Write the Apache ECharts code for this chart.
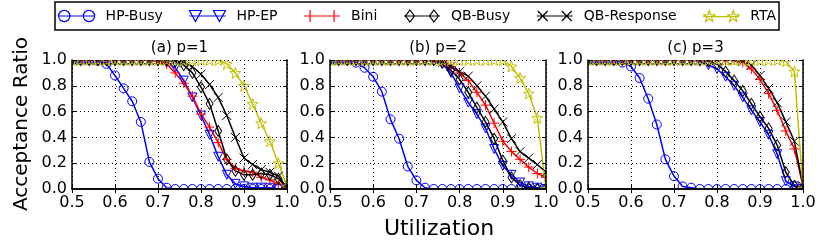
<!DOCTYPE html>
<html><head><meta charset="utf-8">
<script src="https://cdn.jsdelivr.net/npm/echarts@6/dist/echarts.min.js"></script>
<style>html,body{margin:0;padding:0;background:#fff}#c{width:831px;height:244px}</style>
</head><body><div id="c"></div>
<script>
// ---------------- data ----------------
const utilization = [0.50,0.52,0.54,0.56,0.58,0.60,0.62,0.64,0.66,0.68,0.70,0.72,0.74,0.76,0.78,0.80,0.82,0.84,0.86,0.88,0.90,0.92,0.94,0.96,0.98,1.00];
const xTickValues = [0.5,0.6,0.7,0.8,0.9,1.0];
const yTickValues = [0.0,0.2,0.4,0.6,0.8,1.0];
const panelTitles = ['(a) p=1','(b) p=2','(c) p=3'];
const seriesNames = ['HP-Busy','HP-EP','Bini','QB-Busy','QB-Response','RTA'];
const xAxisTitle = 'Utilization';
const yAxisTitle = 'Acceptance Ratio';

// p = 1
const hpBusyP1   = [1,1,1,0.995,0.97,0.88,0.78,0.68,0.52,0.21,0.08,0.01,0,0,0,0,0,0,0,0,0,0,0,0,0,0];
const hpEpP1     = [1,1,1,1,1,1,1,1,1,1,1,0.98,0.94,0.84,0.71,0.57,0.42,0.25,0.11,0.04,0.02,0.01,0.01,0.01,0,0];
const biniP1     = [1,1,1,1,1,1,1,1,1,1,0.99,0.97,0.90,0.82,0.72,0.58,0.48,0.36,0.23,0.16,0.14,0.13,0.09,0.07,0.04,0.01];
const qbBusyP1   = [1,1,1,1,1,1,1,1,1,1,1,1,0.99,0.96,0.90,0.79,0.66,0.45,0.23,0.14,0.11,0.11,0.12,0.11,0.08,0.01];
const qbRespP1   = [1,1,1,1,1,1,1,1,1,1,1,1,0.995,0.98,0.95,0.89,0.81,0.71,0.57,0.40,0.24,0.19,0.15,0.13,0.10,0.01];
const rtaP1      = [1,1,1,1,1,1,1,1,1,1,1,1,1,1,1,1,1,1,0.97,0.90,0.80,0.66,0.51,0.37,0.20,0.02];
// p = 2
const hpBusyP2   = [1,1,1,0.98,0.94,0.87,0.755,0.54,0.39,0.175,0.067,0.01,0,0,0,0,0,0,0,0,0,0,0,0,0,0];
const hpEpP2     = [1,1,1,1,1,1,1,1,1,1,1,1,0.99,0.97,0.90,0.78,0.67,0.58,0.47,0.31,0.18,0.11,0.05,0.02,0.01,0];
const biniP2     = [1,1,1,1,1,1,1,1,1,1,1,1,1,0.99,0.95,0.90,0.84,0.75,0.65,0.51,0.37,0.29,0.23,0.17,0.12,0.09];
const qbBusyP2   = [1,1,1,1,1,1,1,1,1,1,1,1,1,0.98,0.92,0.85,0.75,0.63,0.52,0.39,0.22,0.09,0.03,0.01,0,0];
const qbRespP2   = [1,1,1,1,1,1,1,1,1,1,1,1,1,0.98,0.95,0.91,0.875,0.80,0.72,0.62,0.52,0.39,0.29,0.24,0.19,0.13];
const rtaP2      = [1,1,1,1,1,1,1,1,1,1,1,1,1,1,1,1,1,1,1,1,1,0.95,0.86,0.74,0.55,0.0];
// p = 3
const hpBusyP3   = [1,1,1,1,0.98,0.95,0.86,0.70,0.50,0.23,0.10,0.02,0.01,0,0,0,0,0,0,0,0,0,0,0,0,0];
const hpEpP3     = [1,1,1,1,1,1,1,1,1,1,1,1,1,0.99,0.96,0.93,0.87,0.80,0.71,0.61,0.52,0.42,0.27,0.06,0.02,0];
const biniP3     = [1,1,1,1,1,1,1,1,1,1,1,1,1,1,1,1,1,1,0.98,0.93,0.85,0.74,0.61,0.45,0.31,0.02];
const qbBusyP3   = [1,1,1,1,1,1,1,1,1,1,1,1,1,1,0.99,0.97,0.91,0.84,0.76,0.66,0.56,0.47,0.34,0.13,0.025,0];
const qbRespP3   = [1,1,1,1,1,1,1,1,1,1,1,1,1,1,1,1,1,1,0.99,0.96,0.88,0.78,0.67,0.52,0.37,0.02];
const rtaP3      = [1,1,1,1,1,1,1,1,1,1,1,1,1,1,1,1,1,1,1,1,1,1,1,0.99,0.91,0.0];

const panelData = [
  [hpBusyP1, hpEpP1, biniP1, qbBusyP1, qbRespP1, rtaP1],
  [hpBusyP2, hpEpP2, biniP2, qbBusyP2, qbRespP2, rtaP2],
  [hpBusyP3, hpEpP3, biniP3, qbBusyP3, qbRespP3, rtaP3]
];

// ---------------- styling ----------------
function starPath(cx, cy, R, r) {
  let s = '';
  for (let k = 0; k < 10; k++) {
    const a = -Math.PI / 2 + k * Math.PI / 5;
    const rad = k % 2 ? r : R;
    s += (k ? 'L' : 'M') + (cx + rad * Math.cos(a)).toFixed(2) + ',' + (cy + rad * Math.sin(a)).toFixed(2);
  }
  return s + 'Z';
}
const FONT = 'DejaVu Sans';
const styles = [
  {color:'#0000ff', symbol:'circle', size:9, rotate:0,
   icon:'path://M0.5,6A5.5,5.5 0 1 1 11.5,6A5.5,5.5 0 1 1 0.5,6M0.5,6L35.5,6M24.5,6A5.5,5.5 0 1 1 35.5,6A5.5,5.5 0 1 1 24.5,6'},
  {color:'#0000ff', symbol:'triangle', size:9, rotate:180,
   icon:'path://M0,0.5L12,0.5L6,11.5ZM24,0.5L36,0.5L30,11.5ZM0,6L36,6'},
  {color:'#ff0000', symbol:'path://M0,5L10,5M5,0L5,10', size:10, rotate:0,
   icon:'path://M0,6L36,6M6,0L6,12M30,0L30,12'},
  {color:'#000000', symbol:'diamond', size:[7,11], rotate:0,
   icon:'path://M6,0L10.5,6L6,12L1.5,6ZM30,0L34.5,6L30,12L25.5,6ZM0,6L36,6'},
  {color:'#000000', symbol:'path://M0,0L10,10M10,0L0,10', size:9, rotate:0,
   icon:'path://M1,1L11,11M11,1L1,11M25,1L35,11M35,1L25,11M0,6L36,6'},
  {color:'#bfbf00', symbol:'path://' + starPath(10,10,10,4), size:11, rotate:0,
   icon:'path://' + starPath(6,6.5,6,2.5) + starPath(30,6.5,6,2.5) + 'M0,6.5L36,6.5'}
];

const TOP = 60, H = 129;
const panels = [{left:72, width:215}, {left:330, width:216}, {left:588, width:215}];

const grid = [], xAxis = [], yAxis = [], series = [], graphic = [];
panels.forEach((p, i) => {
  grid.push({left:p.left, top:TOP, width:p.width, height:H, containLabel:false});
  const common = {type:'value', gridIndex:i, zlevel:2, z:10};
  const lineSty = {show:true, lineStyle:{color:'#000', width:1.5}};
  xAxis.push(Object.assign({}, common, {
    position:'bottom', min:xTickValues[0], max:xTickValues[xTickValues.length-1], interval:0.1,
    axisLine:lineSty, axisTick:{show:true, inside:true, length:4, lineStyle:{color:'#000'}},
    axisLabel:{show:true, margin:6, fontFamily:FONT, fontSize:16, color:'#000', formatter:v=>v.toFixed(1)},
    splitLine:{show:true, lineStyle:{color:'#000', width:1, type:[1,3]}}
  }));
  xAxis.push(Object.assign({}, common, {
    position:'top', min:xTickValues[0], max:xTickValues[xTickValues.length-1], interval:0.1,
    axisLine:lineSty, axisTick:{show:true, inside:true, length:4, lineStyle:{color:'#000'}},
    axisLabel:{show:false}, splitLine:{show:false}
  }));
  yAxis.push(Object.assign({}, common, {
    position:'left', min:yTickValues[0], max:yTickValues[yTickValues.length-1], interval:0.2,
    axisLine:lineSty, axisTick:{show:true, inside:true, length:4, lineStyle:{color:'#000'}},
    axisLabel:{show:true, margin:5, fontFamily:FONT, fontSize:16, color:'#000', formatter:v=>v.toFixed(1)},
    splitLine:{show:true, lineStyle:{color:'#000', width:1, type:[1,3]}}
  }));
  yAxis.push(Object.assign({}, common, {
    position:'right', min:yTickValues[0], max:yTickValues[yTickValues.length-1], interval:0.2,
    axisLine:lineSty, axisTick:{show:true, inside:true, length:4, lineStyle:{color:'#000'}},
    axisLabel:{show:false}, splitLine:{show:false}
  }));
  panelData[i].forEach((vals, s) => {
    const st = styles[s];
    series.push({
      type:'line', name:seriesNames[s], xAxisIndex:2*i, yAxisIndex:2*i, zlevel:0, z:2,
      data: utilization.map((u, k) => [u, vals[k]]),
      symbol: st.symbol, symbolSize: st.size, symbolRotate: st.rotate,
      showSymbol:true, showAllSymbol:true, clip:true,
      lineStyle:{color:st.color, width:1.5},
      itemStyle:{color:'rgba(0,0,0,0)', borderColor:st.color, borderWidth:1},
      emphasis:{disabled:true}
    });
  });
  // white covers just outside the plot frame (emulate clipping of markers at the frame)
  const C = 8;
  const cover = (x, y, w, h) => ({type:'rect', zlevel:1, z:5, silent:true, shape:{x, y, width:w, height:h}, style:{fill:'#fff'}});
  graphic.push(cover(p.left - C, TOP - C, p.width + 2*C, C));
  graphic.push(cover(p.left - C, TOP + H, p.width + 2*C, C));
  graphic.push(cover(p.left - C, TOP, C, H));
  graphic.push(cover(p.left + p.width, TOP, C, H));
  graphic.push({type:'text', zlevel:3, z:20, x:p.left + p.width/2, y:48,
    style:{text:panelTitles[i], font:'15px "DejaVu Sans"', fill:'#000', align:'center', verticalAlign:'middle'}});
});
graphic.push({type:'text', zlevel:3, z:20, x:439, y:229,
  style:{text:xAxisTitle, font:'22px "DejaVu Sans"', fill:'#000', align:'center', verticalAlign:'middle'}});
graphic.push({type:'text', zlevel:3, z:20, x:22, y:124, rotation:Math.PI/2,
  style:{text:yAxisTitle, font:'20px "DejaVu Sans"', fill:'#000', align:'center', verticalAlign:'middle'}});

const option = {
  animation:false,
  backgroundColor:'#fff',
  legend:{
    left:55, top:2, padding:[7,3,7,3], itemGap:26, itemWidth:36, itemHeight:12,
    borderColor:'#000', borderWidth:1.5, selectedMode:false, zlevel:3,
    textStyle:{fontFamily:FONT, fontSize:14, color:'#000', padding:[0,0,0,6]},
    data: seriesNames.map((n, s) => ({name:n, icon:styles[s].icon,
      itemStyle:{color:'rgba(0,0,0,0)', borderColor:styles[s].color, borderWidth:1.2}}))
  },
  grid, xAxis, yAxis, series, graphic
};
const chart = echarts.init(document.getElementById('c'), null, {renderer:'canvas'});
chart.setOption(option);
</script></body></html>
